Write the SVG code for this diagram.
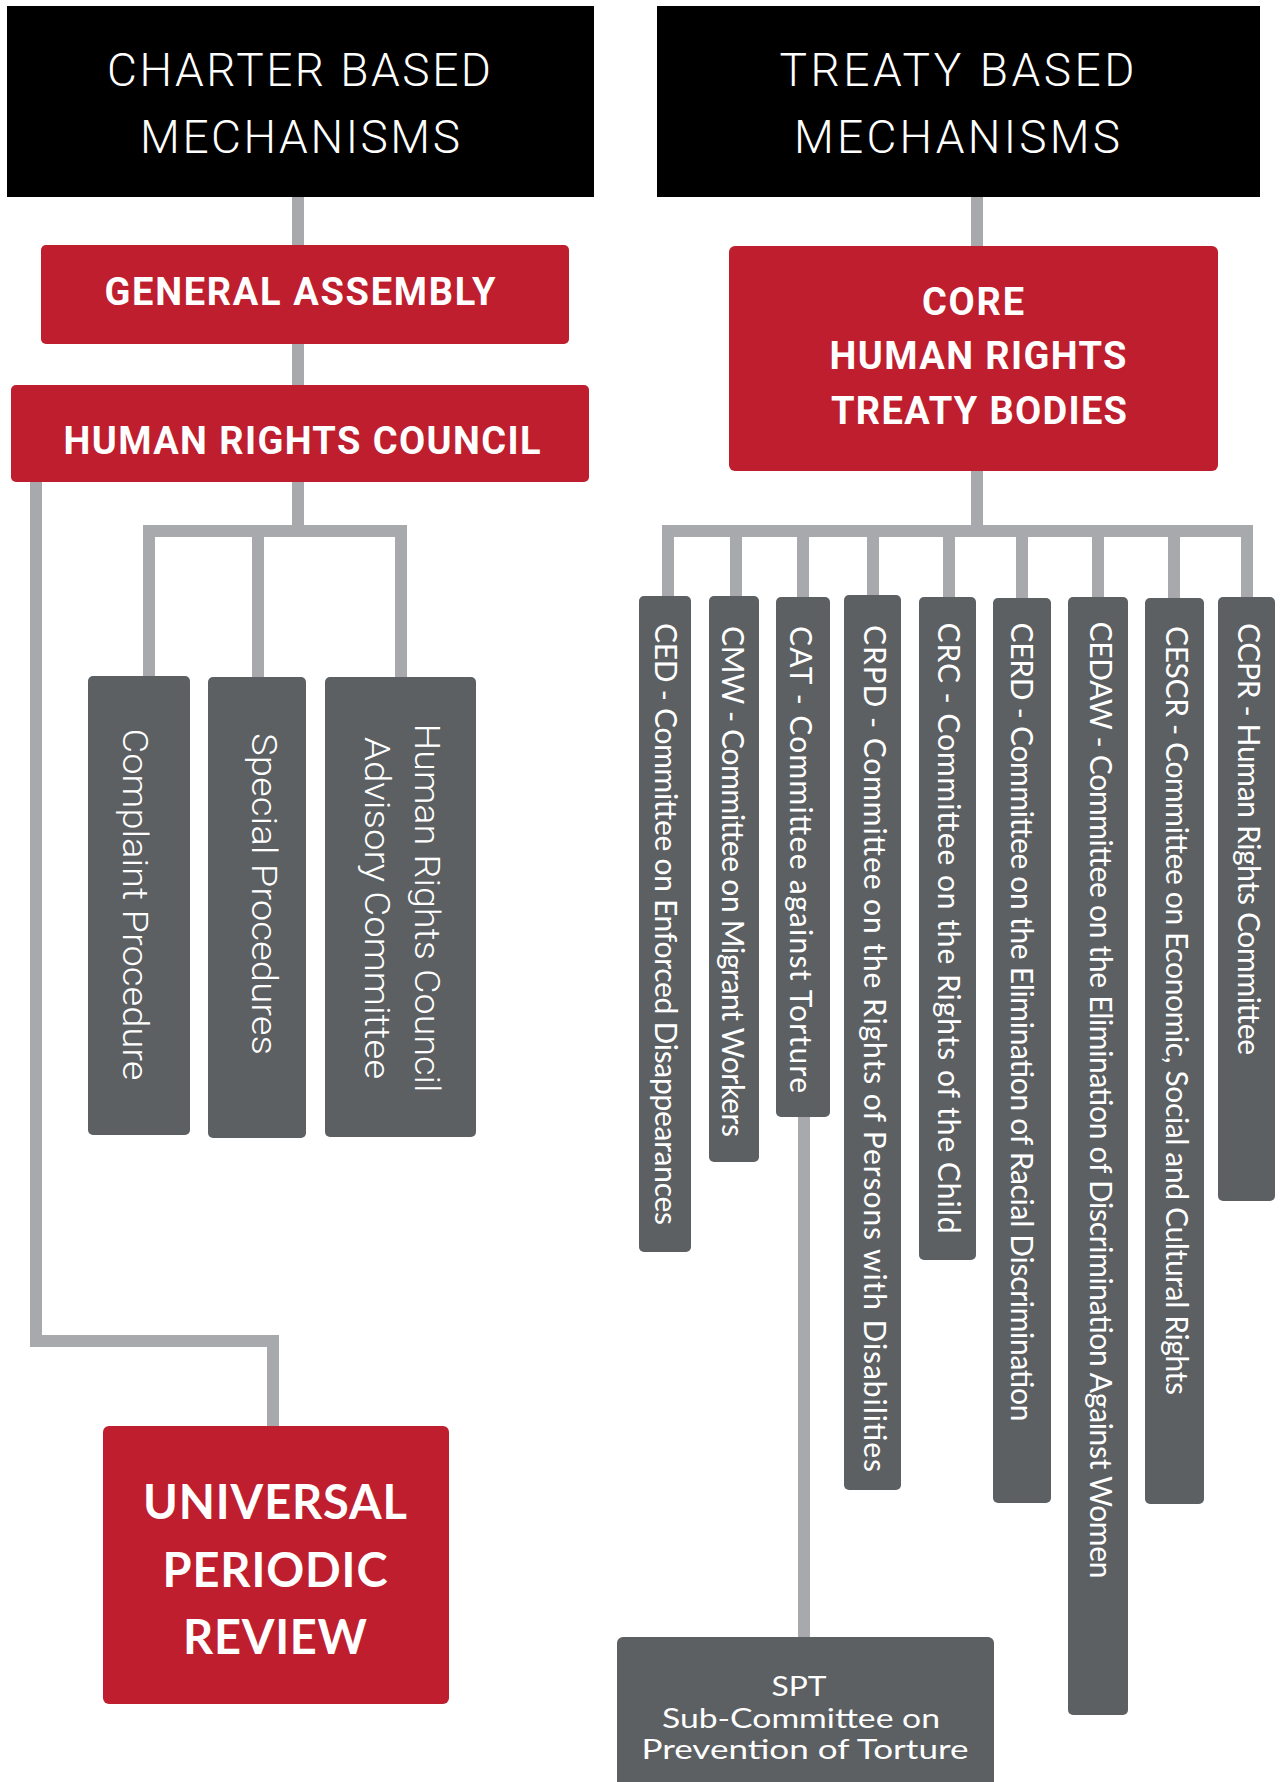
<svg xmlns="http://www.w3.org/2000/svg" width="1284" height="1782" viewBox="0 0 1284 1782">
<style>
.bg{fill:#ffffff}
.blk{fill:#000000}
.red{fill:#be1e2d}
.gry{fill:#5c6063}
.con path{fill:none;stroke:#a7a9ac;stroke-width:12;stroke-linejoin:miter;stroke-linecap:butt}
.title{font-family:Roboto,"Liberation Sans",sans-serif;font-weight:300;font-size:46px;fill:#ffffff;text-anchor:middle}
.rlab{font-family:Roboto,"Liberation Sans",sans-serif;font-weight:700;font-size:38px;fill:#ffffff;text-anchor:middle}
.upr{font-family:Lato,"Liberation Sans",sans-serif;font-weight:700;font-size:47px;fill:#ffffff;text-anchor:middle}
.vch{font-family:Roboto,"Liberation Sans",sans-serif;font-weight:300;font-size:35px;fill:#ffffff}
.vtr{font-family:Lato,"Liberation Sans",sans-serif;font-weight:400;font-size:30px;fill:#ffffff}
.spt{font-family:Lato,"Liberation Sans",sans-serif;font-weight:400;font-size:27px;fill:#ffffff;text-anchor:middle}
</style>
<rect class="bg" x="0" y="0" width="1284" height="1782"/>

<g id="connectors" class="con">
  <path d="M298 190 V250"/>
  <path d="M298 340 V390"/>
  <path d="M298 478 V531"/>
  <path d="M149 680 V531 H401 V680"/>
  <path d="M258 531 V680"/>
  <path d="M36 478 V1341 H273 V1430"/>
  <path d="M977 190 V250"/>
  <path d="M977 466 V531"/>
  <path d="M668 600 V531 H1247 V600"/>
  <path d="M736 531 V600"/>
  <path d="M803 531 V600"/>
  <path d="M873 531 V600"/>
  <path d="M949 531 V600"/>
  <path d="M1022 531 V600"/>
  <path d="M1098 531 V600"/>
  <path d="M1174 531 V600"/>
  <path d="M804 1110 V1642"/>
</g>

<g id="charter">
  <rect class="blk" x="7" y="6" width="587" height="191"/>
  <text class="title" x="299" y="86" textLength="384">CHARTER BASED</text>
  <text class="title" x="300" y="153" textLength="320">MECHANISMS</text>
</g>
<g id="treaty">
  <rect class="blk" x="657" y="6" width="603" height="191"/>
  <text class="title" x="957" y="86" textLength="355">TREATY BASED</text>
  <text class="title" x="957" y="153" textLength="326">MECHANISMS</text>
</g>

<g id="general-assembly">
  <rect class="red" x="41" y="245" width="528" height="99" rx="5"/>
  <text class="rlab" x="300" y="305" textLength="391">GENERAL ASSEMBLY</text>
</g>
<g id="human-rights-council">
  <rect class="red" x="11" y="385" width="578" height="97" rx="5"/>
  <text class="rlab" x="302" y="454" textLength="477">HUMAN RIGHTS COUNCIL</text>
</g>
<g id="core-bodies">
  <rect class="red" x="729" y="246" width="489" height="225" rx="6"/>
  <text class="rlab" x="973" y="315" textLength="102">CORE</text>
  <text class="rlab" x="978" y="369" textLength="297">HUMAN RIGHTS</text>
  <text class="rlab" x="979" y="424" textLength="296">TREATY BODIES</text>
</g>

<g id="complaint-procedure">
  <rect class="gry" x="88" y="676" width="102" height="459" rx="5"/>
  <text class="vch" transform="translate(123,728.5) rotate(90)" textLength="352" lengthAdjust="spacingAndGlyphs">Complaint Procedure</text>
</g>
<g id="special-procedures">
  <rect class="gry" x="208" y="677" width="98" height="461" rx="5"/>
  <text class="vch" transform="translate(252,733) rotate(90)" textLength="322" lengthAdjust="spacingAndGlyphs">Special Procedures</text>
</g>
<g id="advisory-committee">
  <rect class="gry" x="325" y="677" width="151" height="460" rx="5"/>
  <text class="vch" transform="translate(415,723.5) rotate(90)" textLength="369" lengthAdjust="spacingAndGlyphs">Human Rights Council</text>
  <text class="vch" transform="translate(365,737) rotate(90)" textLength="342" lengthAdjust="spacingAndGlyphs">Advisory Committee</text>
</g>

<g id="upr">
  <rect class="red" x="103" y="1426" width="346" height="278" rx="6"/>
  <text class="upr" x="275" y="1519" textLength="264">UNIVERSAL</text>
  <text class="upr" x="275" y="1587" textLength="225">PERIODIC</text>
  <text class="upr" x="275" y="1654" textLength="184">REVIEW</text>
</g>

<g id="ced">
  <rect class="gry" x="639" y="596" width="52" height="656" rx="5"/>
  <text class="vtr" transform="translate(655,623) rotate(90)" textLength="602">CED - Committee on Enforced Disappearances</text>
</g>
<g id="cmw">
  <rect class="gry" x="709" y="596" width="50" height="566" rx="5"/>
  <text class="vtr" transform="translate(722,626) rotate(90)" textLength="511">CMW - Committee on Migrant Workers</text>
</g>
<g id="cat">
  <rect class="gry" x="776" y="597" width="54" height="520" rx="5"/>
  <text class="vtr" transform="translate(790,626) rotate(90)" textLength="467">CAT - Committee against Torture</text>
</g>
<g id="crpd">
  <rect class="gry" x="844" y="595" width="57" height="895" rx="5"/>
  <text class="vtr" transform="translate(864,625) rotate(90)" textLength="847">CRPD - Committee on the Rights of Persons with Disabilities</text>
</g>
<g id="crc">
  <rect class="gry" x="919" y="597" width="57" height="663" rx="5"/>
  <text class="vtr" transform="translate(938,622.5) rotate(90)" textLength="611">CRC - Committee on the Rights of the Child</text>
</g>
<g id="cerd">
  <rect class="gry" x="993" y="598" width="58" height="905" rx="5"/>
  <text class="vtr" transform="translate(1011,622.5) rotate(90)" textLength="799">CERD - Committee on the Elimination of Racial Discrimination</text>
</g>
<g id="cedaw">
  <rect class="gry" x="1068" y="597" width="60" height="1118" rx="5"/>
  <text class="vtr" transform="translate(1090,621.5) rotate(90)" textLength="957">CEDAW - Committee on the Elimination of Discrimination Against Women</text>
</g>
<g id="cescr">
  <rect class="gry" x="1145" y="598" width="59" height="906" rx="5"/>
  <text class="vtr" transform="translate(1166,626) rotate(90)" textLength="769">CESCR - Committee on Economic, Social and Cultural Rights</text>
</g>
<g id="ccpr">
  <rect class="gry" x="1218" y="597" width="57" height="604" rx="5"/>
  <text class="vtr" transform="translate(1238,623) rotate(90)" textLength="432">CCPR - Human Rights Committee</text>
</g>

<g id="spt">
  <rect class="gry" x="617" y="1637" width="377" height="170" rx="6"/>
  <text class="spt" x="799" y="1696" textLength="55" lengthAdjust="spacingAndGlyphs">SPT</text>
  <text class="spt" x="801" y="1728" textLength="278" lengthAdjust="spacingAndGlyphs">Sub-Committee on</text>
  <text class="spt" x="805" y="1759" textLength="327" lengthAdjust="spacingAndGlyphs">Prevention of Torture</text>
</g>
</svg>
